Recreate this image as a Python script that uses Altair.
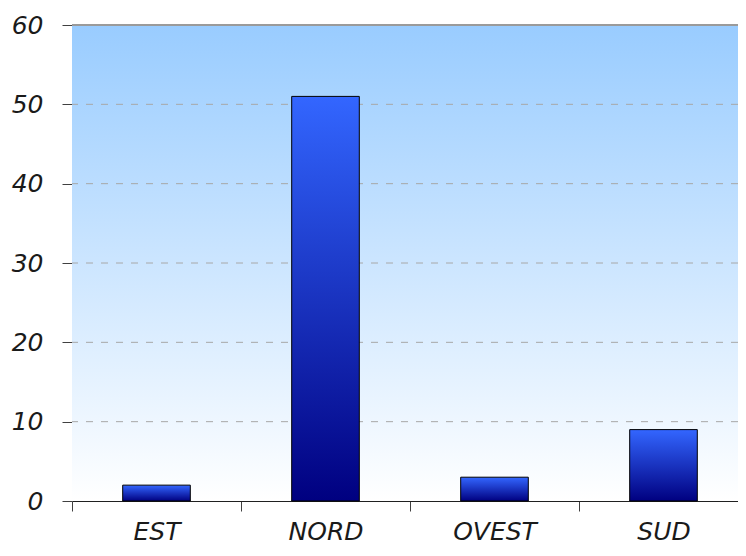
import altair as alt
import pandas as pd

# ---- data ----
regions = ["EST", "NORD", "OVEST", "SUD"]
values = [2, 51, 3, 9]
grid_values = [10, 20, 30, 40, 50]
top_value = [60]
y_ticks = [0, 10, 20, 30, 40, 50, 60]

df = pd.DataFrame({"region": regions, "value": values})
grid_df = pd.DataFrame({"v": grid_values})
top_df = pd.DataFrame({"v": top_value})

W, H = 666, 476
XR = 676  # full band range (last part falls off the page, as in the original)
FONT = "DejaVu Sans"
FS = 25
STEP = XR / 4.0

yscale = alt.Scale(domain=[0, 60], nice=False, zero=True)
xscale = alt.Scale(paddingInner=0.6, paddingOuter=0.3, range=[0, XR])

yaxis = alt.Axis(title=None, values=y_ticks, tickSize=10, tickColor="#404040",
                 domainColor="#505050", labelPadding=19, labelFont=FONT,
                 labelFontSize=FS, labelFontStyle="italic", labelColor="#1a1a1a",
                 grid=False)

bg = alt.Chart(pd.DataFrame({"a": [0]})).mark_rect(
    color=alt.Gradient(
        gradient="linear",
        stops=[alt.GradientStop(color="#99CCFF", offset=0),
               alt.GradientStop(color="#FFFFFF", offset=1)],
        x1=0, x2=0, y1=0, y2=1,
    )
).encode(x=alt.value(0), x2=alt.value(W), y=alt.value(0), y2=alt.value(H))

grid = alt.Chart(grid_df).mark_rule(
    color="#A8A8A8", strokeDash=[7, 8], strokeWidth=1
).encode(y=alt.Y("v:Q", scale=yscale, axis=yaxis))

top = alt.Chart(top_df).mark_rule(color="#9A9A9A", strokeWidth=2).encode(
    y=alt.Y("v:Q", scale=yscale, axis=yaxis)
)

bars = alt.Chart(df).mark_bar(
    color=alt.Gradient(
        gradient="linear",
        stops=[alt.GradientStop(color="#000080", offset=0),
               alt.GradientStop(color="#3366FF", offset=1)],
        x1=0, x2=0, y1=1, y2=0,
    ),
    stroke="#000000",
    strokeWidth=1,
).encode(
    x=alt.X("region:N", sort=regions, scale=xscale,
            axis=alt.Axis(title=None, labelAngle=0,
                          tickOffset=-STEP / 2, labelOffset=STEP / 2,
                          tickSize=10, tickColor="#404040", domainColor="#202020",
                          labelPadding=8, labelFont=FONT, labelFontSize=FS,
                          labelFontStyle="italic", labelColor="#1a1a1a", grid=False)),
    y=alt.Y("value:Q", scale=yscale, axis=yaxis),
)

chart = alt.layer(bg, grid, top, bars).properties(
    width=W, height=H,
    padding={"left": 64, "top": 17, "right": 0, "bottom": 46},
    autosize=alt.AutoSizeParams(type="none"),
).configure_view(stroke=None)

chart.save("out.html", embed_options={"renderer": "svg", "actions": False})
